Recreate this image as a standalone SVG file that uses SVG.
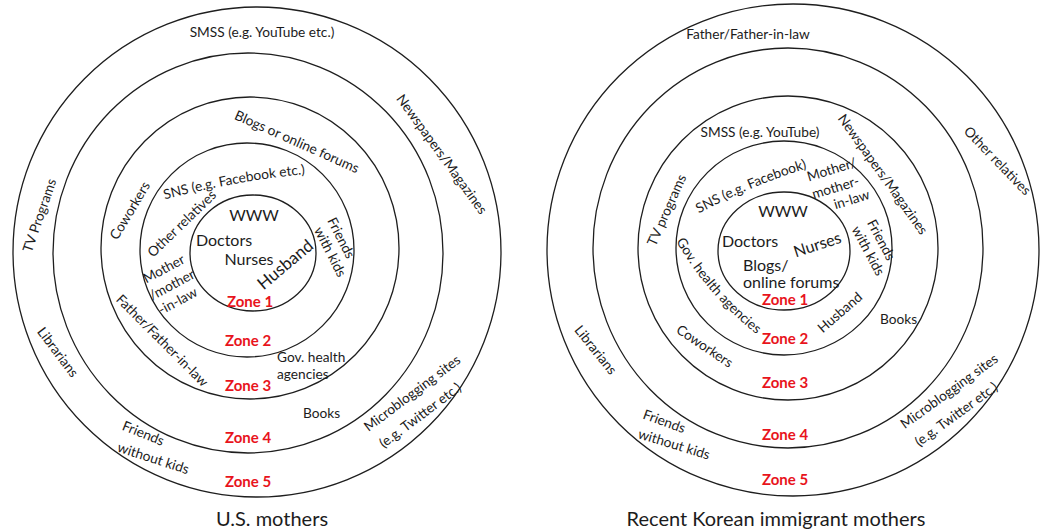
<svg xmlns="http://www.w3.org/2000/svg" xmlns:xlink="http://www.w3.org/1999/xlink" width="1041" height="531" viewBox="0 0 1041 531">
<style>
.ring{fill:none;stroke:#1e1e1e;stroke-width:1.3}
text{font-family:Lato,"Open Sans","Liberation Sans",sans-serif;fill:#1c1c1c}
.l{font-size:13.7px}
.m{text-anchor:middle}
.in{font-size:16px}
.hb{font-size:17px}
.z{font-size:15px;font-weight:bold;fill:#e8141c;text-anchor:middle}
.t{font-size:20px;text-anchor:middle}
</style>
<defs>
<path id="pSnsL" d="M163,200 Q233,181 307,174"/>
<path id="pSnsR" d="M698,214 Q751,185.5 808,168"/>
<path id="pGovR" d="M677,243 Q708,295 755,333"/>
</defs>
<g id="us-mothers">
<g id="us-rings">
<ellipse class="ring" cx="257" cy="252" rx="244" ry="245"/>
<ellipse class="ring" cx="248" cy="253" rx="195" ry="200"/>
<ellipse class="ring" cx="250" cy="248" rx="149" ry="151"/>
<ellipse class="ring" cx="247" cy="250" rx="107" ry="107"/>
<ellipse class="ring" cx="253" cy="253" rx="63" ry="58"/>
</g>
<g id="us-labels">
<text class="l m" x="262" y="37">SMSS (e.g. YouTube etc.)</text>
<text class="l m" transform="translate(438,157) rotate(54)">Newspapers/Magazines</text>
<text class="l m" transform="translate(44,217) rotate(-71)">TV Programs</text>
<text class="l m" transform="translate(134,213) rotate(-59)">Coworkers</text>
<text class="l m" transform="translate(295,146) rotate(24)">Blogs or online forums</text>
<text class="l m"><textPath xlink:href="#pSnsL" href="#pSnsL" startOffset="50%">SNS (e.g. Facebook etc.)</textPath></text>
<text class="l m" transform="translate(185,227) rotate(-44)">Other relatives</text>
<text class="l m" transform="translate(166,273) rotate(-28)">Mother</text>
<text class="l m" transform="translate(174,289) rotate(-28)">/mother</text>
<text class="l m" transform="translate(180,305) rotate(-28)">-in-law</text>
<text class="l m" transform="translate(337,240) rotate(63)">Friends</text>
<text class="l m" transform="translate(326,254) rotate(63)">with kids</text>
<text class="hb m" transform="translate(289,269) rotate(-40)">Husband</text>
<text class="in m" x="254" y="221">WWW</text>
<text class="in m" x="224" y="246">Doctors</text>
<text class="in m" x="249" y="265">Nurses</text>
<text class="l m" transform="translate(159,344) rotate(45)">Father/Father-in-law</text>
<text class="l m" transform="translate(54,355) rotate(53)">Librarians</text>
<text class="l" x="277" y="362">Gov. health</text>
<text class="l" x="277" y="379">agencies</text>
<text class="l" x="303" y="418">Books</text>
<text class="l m" transform="translate(415,397) rotate(-37)">Microblogging sites</text>
<text class="l m" transform="translate(423,419) rotate(-37)">(e.g. Twitter etc.)</text>
<text class="l m" transform="translate(141.5,437.7) rotate(22)">Friends</text>
<text class="l m" transform="translate(151.8,462.8) rotate(18)">without kids</text>
</g>
<g id="us-zones">
<text class="z" x="250" y="307">Zone 1</text>
<text class="z" x="248" y="346">Zone 2</text>
<text class="z" x="248" y="391">Zone 3</text>
<text class="z" x="248" y="443">Zone 4</text>
<text class="z" x="248" y="487">Zone 5</text>
</g>
<text id="us-title" class="t" x="272" y="526">U.S. mothers</text>
</g>
<g id="korean-mothers">
<g id="kr-rings">
<ellipse class="ring" cx="793" cy="250" rx="246" ry="246"/>
<ellipse class="ring" cx="788" cy="248" rx="195" ry="200"/>
<ellipse class="ring" cx="788" cy="248" rx="150" ry="152"/>
<ellipse class="ring" cx="784" cy="248" rx="108" ry="107"/>
<ellipse class="ring" cx="784" cy="251" rx="66" ry="59"/>
</g>
<g id="kr-labels">
<text class="l m" x="748" y="39">Father/Father-in-law</text>
<text class="l m" transform="translate(994,164) rotate(46)">Other relatives</text>
<text class="l m" transform="translate(879,177) rotate(54.5)">Newspapers/Magazines</text>
<text class="l m" x="760" y="137">SMSS (e.g. YouTube)</text>
<text class="l m" transform="translate(671,212) rotate(-66)">TV programs</text>
<text class="l m"><textPath xlink:href="#pSnsR" href="#pSnsR" startOffset="50%">SNS (e.g. Facebook)</textPath></text>
<text class="l m" transform="translate(833,174) rotate(-17)">Mother/</text>
<text class="l m" transform="translate(837,192) rotate(-17)">mother-</text>
<text class="l m" transform="translate(853,204) rotate(-17)">in-law</text>
<text class="in m" x="783" y="217">WWW</text>
<text class="in m" x="750" y="247">Doctors</text>
<text class="in m" transform="translate(819,250) rotate(-18)">Nurses</text>
<text class="in" x="743" y="271">Blogs/</text>
<text class="in" x="743" y="288">online forums</text>
<text class="l m" transform="translate(877,242) rotate(62)">Friends</text>
<text class="l m" transform="translate(864,253) rotate(62)">with kids</text>
<text class="l m"><textPath xlink:href="#pGovR" href="#pGovR" startOffset="50%">Gov. health agencies</textPath></text>
<text class="l m" transform="translate(843,316) rotate(-41)">Husband</text>
<text class="l" x="880" y="324">Books</text>
<text class="l m" transform="translate(702,350) rotate(34)">Coworkers</text>
<text class="l m" transform="translate(592,353) rotate(51)">Librarians</text>
<text class="l m" transform="translate(662.6,425.8) rotate(20)">Friends</text>
<text class="l m" transform="translate(672.8,448.8) rotate(17)">without kids</text>
<text class="l m" transform="translate(952,395) rotate(-36)">Microblogging sites</text>
<text class="l m" transform="translate(959,418) rotate(-36)">(e.g. Twitter etc.)</text>
</g>
<g id="kr-zones">
<text class="z" x="785" y="305">Zone 1</text>
<text class="z" x="785" y="344">Zone 2</text>
<text class="z" x="785" y="388">Zone 3</text>
<text class="z" x="785" y="440">Zone 4</text>
<text class="z" x="785" y="485">Zone 5</text>
</g>
<text id="kr-title" class="t" x="776" y="526">Recent Korean immigrant mothers</text>
</g>
</svg>
